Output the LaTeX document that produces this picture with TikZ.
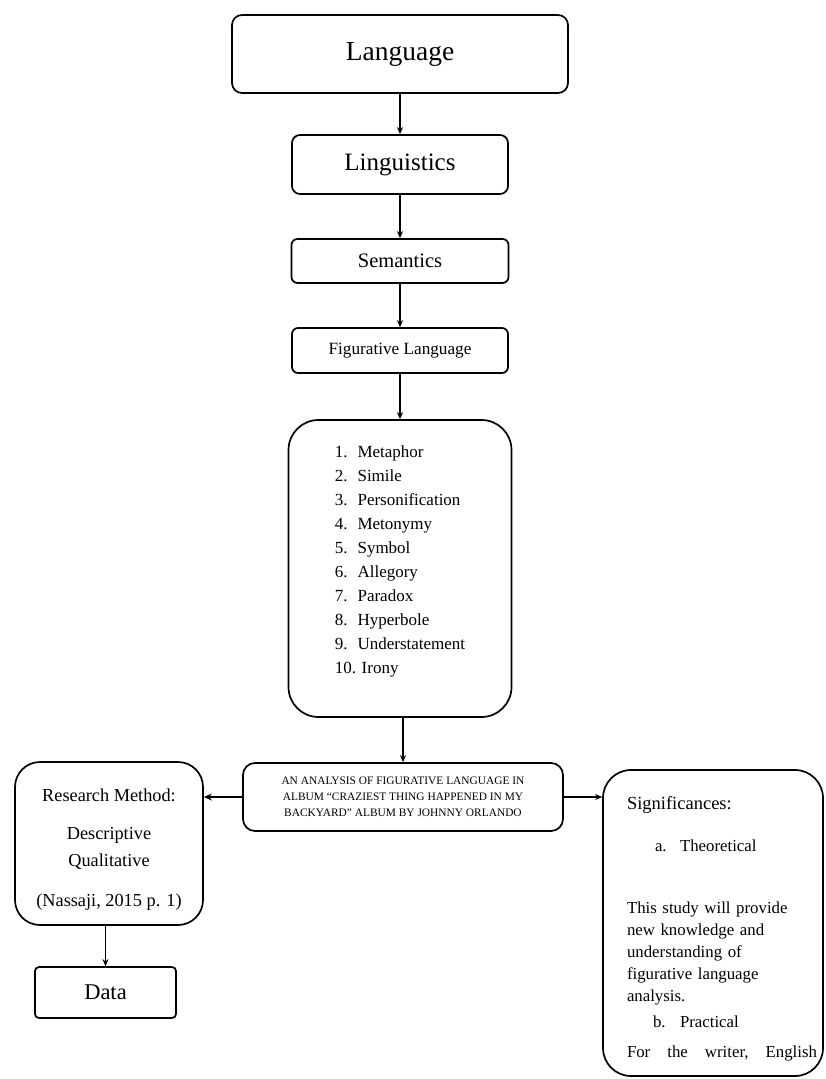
\documentclass[tikz,border=0pt]{standalone}
\usepackage{fontspec}
\setmainfont{Liberation Serif}
\usetikzlibrary{arrows.meta}
\begin{document}
\begin{tikzpicture}[x=1pt,y=-1pt,
  box/.style={draw=black, line width=1.7pt, fill=white, inner sep=0pt, align=center},
  conn/.style={line width=1.3pt, -{Stealth[length=7pt,width=6pt]}},
  thick conn/.style={line width=2.6pt, -{Stealth[length=8pt,width=7pt]}}]
\useasboundingbox (0,0) rectangle (826,1079);
\fill[white] (0,0) rectangle (826,1079);

\node[box, rounded corners=10pt, minimum width=336pt, minimum height=78pt,
      font=\fontsize{27.5}{32}\selectfont] (lang) at (400,54) {Language};
\node[box, rounded corners=8pt, minimum width=216pt, minimum height=59pt,
      font=\fontsize{25}{28}\selectfont] (ling) at (400,164.5) {Linguistics};
\node[box, rounded corners=6pt, minimum width=217pt, minimum height=44pt,
      font=\fontsize{20.5}{22}\selectfont] (sem) at (400,261) {Semantics};
\node[box, rounded corners=6pt, minimum width=216pt, minimum height=45pt,
      font=\fontsize{17.2}{19}\selectfont] (fig) at (400,350.5) {Figurative Language};
\node[box, rounded corners=30pt, minimum width=223pt, minimum height=297pt,
      font=\fontsize{17}{24}\selectfont, align=left] (list) at (400,568.5)
  {\begin{tabular}{@{}l@{\hspace{10pt}}l@{}}
   1. & Metaphor\\ 2. & Simile\\ 3. & Personification\\ 4. & Metonymy\\
   5. & Symbol\\ 6. & Allegory\\ 7. & Paradox\\ 8. & Hyperbole\\
   9. & Understatement\\ \multicolumn{2}{@{}l}{10. Irony}\\[16pt]
   \end{tabular}};

\node[box, rounded corners=12pt, minimum width=320pt, minimum height=68pt,
      font=\fontsize{11.4}{16}\selectfont] (main) at (403,797)
  {AN ANALYSIS OF FIGURATIVE LANGUAGE IN\\ ALBUM “CRAZIEST THING HAPPENED IN MY\\ BACKYARD” ALBUM BY JOHNNY ORLANDO};

\node[box, rounded corners=25pt, minimum width=188pt, minimum height=163pt,
      font=\fontsize{18.3}{27}\selectfont] (res) at (109,843.5)
  {\rule{0pt}{24pt}Research Method:\\[11pt] Descriptive\\ Qualitative\\[13pt] (Nassaji, 2015 p. 1)};

\node[box, rounded corners=4pt, minimum width=141pt, minimum height=51pt,
      font=\fontsize{22.5}{24}\selectfont] (data) at (105.5,992.5) {Data};

\node[box, rounded corners=28pt, minimum width=220pt, minimum height=306pt,
      font=\fontsize{16.8}{22}\selectfont, align=left, text width=172pt] (sig) at (713,923)
  {{\fontsize{18.5}{22}\selectfont\rule{0pt}{24pt}Significances:}\\[20pt]
   \hspace*{28pt}\makebox[25pt][l]{a.}Theoretical\\[40pt]
   This study will provide\\ new knowledge and\\ understanding of\\ figurative language\\ analysis.\\[4pt]
   \hspace*{26pt}\makebox[27pt][l]{b.}Practical\\[8pt]
   \hbox to 190pt{For\hfill the\hfill writer,\hfill English}};

\draw[conn] (lang.south) -- (ling.north);
\draw[conn] (ling.south) -- (sem.north);
\draw[conn] (sem.south) -- (fig.north);
\draw[conn] (fig.south) -- (list.north);
\draw[conn] (list.south -| main.north) -- (main.north);
\draw[thick conn] (main.west) -- (main.west -| res.east);
\draw[conn] (main.east) -- (main.east -| sig.west);
\draw[conn] (data.north |- res.south) -- (data.north);
\end{tikzpicture}
\end{document}
